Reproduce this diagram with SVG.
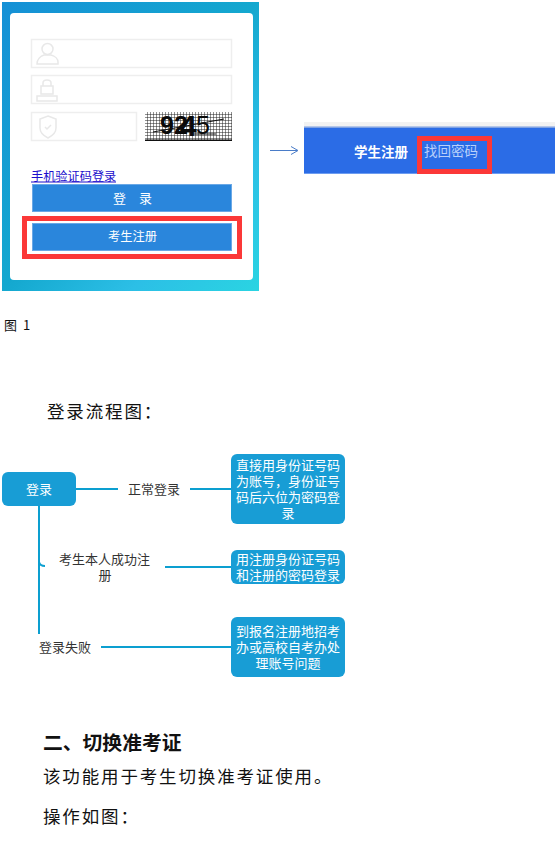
<svg xmlns="http://www.w3.org/2000/svg" width="558" height="842" viewBox="0 0 558 842">
<style>
text{font-family:"Noto Sans CJK SC","Liberation Sans",sans-serif}
.song{fill:#111;font-size:17.500px;letter-spacing:1.850px}
.latin{font-family:"Liberation Sans",sans-serif;fill:#0a0a0a}
.field{fill:#fff;stroke:#eeeeee;stroke-width:1.5}
.icon{fill:none;stroke:#e8e8e8;stroke-width:1.5}
.btn{fill:#2a86dc;stroke:#6aa8e6;stroke-width:1}
.red{fill:none;stroke:#fb3838;stroke-width:5}
.node{fill:#189dd5}
.conn{fill:none;stroke:#0c9fd0;stroke-width:2}
.w{fill:#fff;font-size:13px;text-anchor:middle}
.d{fill:#333;font-size:13px;text-anchor:middle}
</style>
<defs>
<linearGradient id="bg" x1="0" y1="0" x2="1" y2="1"><stop offset="0" stop-color="#1590d6"/><stop offset=".5" stop-color="#14a8cf"/><stop offset=".75" stop-color="#2cbfe6"/><stop offset="1" stop-color="#2ad4e2"/></linearGradient>
<pattern id="grid" width="3" height="3" patternUnits="userSpaceOnUse"><rect width="3" height="3" fill="#fff"/><path d="M0 0H3M0 0V3" stroke="#222" stroke-width="1"/></pattern>
</defs>
<g id="login-panel">
<rect x="2" y="2" width="257" height="289" fill="url(#bg)"/>
<rect x="10" y="13" width="243" height="267" rx="4" fill="#fff"/>
<rect class="field" x="31.500" y="39.500" width="200" height="28"/>
<circle class="icon" cx="47.500" cy="49" r="5.500"/><path class="icon" d="M37 64c0-5 4-8 7-9h7c4 1 7 4 7 7v2z"/>
<rect class="field" x="31.500" y="75.500" width="200" height="28"/>
<path class="icon" d="M43 86v-3c0-4 8-4 8 0v3M41 86h12v8H41zM37 96h20v5H37z"/>
<rect class="field" x="31.500" y="112.500" width="105" height="28"/>
<path class="icon" d="M48 116l8 3v9c0 5-4 8-8 10-4-2-8-5-8-10v-9zM45 127l2 2 4-4"/>
</g>
<g id="captcha">
<rect x="145" y="112" width="87" height="29" fill="url(#grid)"/>
<rect x="145" y="139.500" width="87" height="1.500" fill="#111"/>
<text class="latin" x="160 174" y="134" font-size="25" font-weight="700">92</text>
<text class="latin" x="180" y="136" font-size="30" font-weight="700">4</text>
<text class="latin" x="196" y="134" font-size="25">5</text>
<path d="M153 132L224 119M190 134H216" stroke="#111" fill="none"/>
</g>
<g id="phone-link">
<text x="31" y="181" font-size="12.200" fill="#1a0dcc">手机验证码登录</text>
<path d="M31 182H116" stroke="#1a0dcc" stroke-width="1"/>
</g>
<g id="login-button">
<rect class="btn" x="32.500" y="184.500" width="199" height="27"/>
<text x="113 139" y="203" fill="#fff" font-size="13">登录</text>
</g>
<g id="register-button">
<rect class="red" x="24.500" y="218.500" width="215" height="38"/>
<rect class="btn" x="32.500" y="223.500" width="199" height="27"/>
<text x="132.500" y="241" fill="#fff" font-size="12.300" text-anchor="middle">考生注册</text>
</g>
<text id="fig-caption" x="4 23" y="330" font-size="13" fill="#111" style="font-family:'Noto Sans CJK SC','Liberation Serif',serif">图1</text>
<g id="arrow-between">
<path d="M270 150.500H297M291 146.500L298 150.500L291 154.500" fill="none" stroke="#4a7cc8" stroke-width="1"/>
</g>
<g id="banner">
<rect x="304" y="122" width="251" height="4" fill="#f2f2f2"/>
<rect x="304" y="126.500" width="251" height="47.500" fill="#2b6ce6"/>
<rect x="304" y="173" width="251" height="1" fill="#6d9cf0"/>
<rect x="304" y="126.500" width="251" height="1" fill="#d4d8e0"/>
<text x="354" y="157" font-size="13.500" font-weight="700" fill="#fff">学生注册</text>
<text x="424" y="156" font-size="13.500" fill="#b9d0fa">找回密码</text>
<rect class="red" x="419.500" y="138.500" width="70" height="33"/>
</g>
<text id="flow-title" class="song" x="47" y="418">登录流程图：</text>
<g id="connectors">
<path class="conn" d="M76 489H118"/>
<path class="conn" d="M190 489H232"/>
<path class="conn" d="M39 506V634"/>
<path class="conn" d="M39 562q1 4 6 4"/>
<path class="conn" d="M165 567H232"/>
<path class="conn" d="M101 647H232"/>
</g>
<g id="node-login">
<rect class="node" x="2" y="472" width="74" height="34" rx="6"/>
<text class="w" x="39" y="494">登录</text>
</g>
<g id="label-normal"><text class="d" x="154" y="494">正常登录</text></g>
<g id="label-registered"><text class="d"><tspan x="104.500" y="564">考生本人成功注</tspan><tspan x="105" y="580">册</tspan></text></g>
<g id="label-failed"><text class="d" x="65" y="652">登录失败</text></g>
<g id="node-a">
<rect class="node" x="231" y="454" width="114" height="70" rx="6"/>
<text class="w"><tspan x="288" y="470">直接用身份证号码</tspan><tspan x="288" y="486">为账号，身份证号</tspan><tspan x="288" y="502">码后六位为密码登</tspan><tspan x="288" y="518">录</tspan></text>
</g>
<g id="node-b">
<rect class="node" x="231" y="550" width="114" height="34" rx="6"/>
<text class="w"><tspan x="288" y="564">用注册身份证号码</tspan><tspan x="288" y="580">和注册的密码登录</tspan></text>
</g>
<g id="node-c">
<rect class="node" x="231" y="617" width="114" height="60" rx="6"/>
<text class="w"><tspan x="288" y="636">到报名注册地招考</tspan><tspan x="288" y="652">办或高校自考办处</tspan><tspan x="288" y="668">理账号问题</tspan></text>
</g>
<text id="heading-2" x="43" y="750" font-size="19.800" font-weight="700" fill="#111">二、切换准考证</text>
<text id="para-1" class="song" x="43" y="783">该功能用于考生切换准考证使用。</text>
<text id="para-2" class="song" x="43" y="823">操作如图：</text>
</svg>
